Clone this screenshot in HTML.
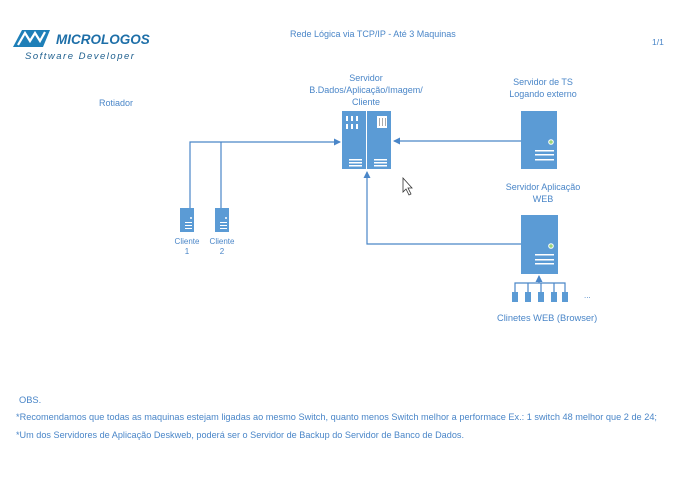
<!DOCTYPE html>
<html><head><meta charset="utf-8"><style>
html,body{margin:0;padding:0;background:#fff;}
svg{display:block}
text{font-family:"Liberation Sans",sans-serif;fill:#4a86c8;font-size:8.5px}
text.m{font-size:9px}
text.n{font-size:9.3px}
</style></head><body>
<svg width="699" height="492" viewBox="0 0 699 492" xmlns="http://www.w3.org/2000/svg">
<defs>
<marker id="ar" markerWidth="8" markerHeight="8" refX="6" refY="4" orient="auto" markerUnits="userSpaceOnUse">
<path d="M0,0.5 L7,4 L0,7.5 z" fill="#4a86c8"/></marker>
</defs>
<g>
<path d="M13,47 L22,30 L50,30 L43,47 Z" fill="#1e7fb8"/>
<path d="M18,45 L25,33 L30,41 L35,33 L40,41 L45,32" stroke="#fff" stroke-width="2.2" fill="none"/>
<text x="56" y="44" style="font-size:13.5px;font-weight:bold;font-style:italic;fill:#1e6fa8">MICROLOGOS</text>
<text x="25" y="59" style="font-size:9.5px;font-style:italic;fill:#1e5f8e;letter-spacing:1.5px">Software Developer</text>
</g>
<text x="290" y="37" class="m">Rede Lógica via TCP/IP - Até 3 Maquinas</text>
<text x="652" y="45">1/1</text>
<text x="99" y="106" class="m">Rotiador</text>
<text x="366" y="81" text-anchor="middle" class="m">Servidor</text>
<text x="366" y="93" text-anchor="middle" class="m">B.Dados/Aplicação/Imagem/</text>
<text x="366" y="105" text-anchor="middle" class="m">Cliente</text>
<text x="543" y="85" text-anchor="middle" class="m">Servidor de TS</text>
<text x="543" y="97" text-anchor="middle" class="m">Logando externo</text>
<text x="543" y="190" text-anchor="middle" class="m">Servidor Aplicação</text>
<text x="543" y="202" text-anchor="middle" class="m">WEB</text>
<g stroke="#4a86c8" stroke-width="1.2" fill="none">
<path d="M190,208 V142 H340" marker-end="url(#ar)"/>
<path d="M221,208 V142"/>
<path d="M521,141 H394" marker-end="url(#ar)"/>
<path d="M521,244 H367 V172" marker-end="url(#ar)"/>
<path d="M539,283 V276" marker-end="url(#ar)"/>
<path d="M515,292 V283 H565 V292 M528,283 V292 M541,283 V292 M554,283 V292"/>
</g>
<rect x="342" y="111" width="24" height="58" fill="#5b9bd5"/>
<rect x="367" y="111" width="24" height="58" fill="#5b9bd5"/>
<g fill="#fff">
<rect x="346" y="116" width="2" height="5"/><rect x="351" y="116" width="2" height="5"/><rect x="356" y="116" width="2" height="5"/>
<rect x="346" y="124" width="2" height="5"/><rect x="351" y="124" width="2" height="5"/><rect x="356" y="124" width="2" height="5"/>
<rect x="377" y="116" width="10" height="12"/>
<rect x="349" y="159" width="13" height="1.5"/><rect x="349" y="162" width="13" height="1.5"/><rect x="349" y="165" width="13" height="1.5"/>
<rect x="374" y="159" width="13" height="1.5"/><rect x="374" y="162" width="13" height="1.5"/><rect x="374" y="165" width="13" height="1.5"/>
</g>
<g fill="#aaa"><rect x="379" y="118" width="1" height="8"/><rect x="382" y="118" width="1" height="8"/><rect x="385" y="118" width="1" height="8"/></g>
<rect x="521" y="111" width="36" height="58" fill="#5b9bd5"/>
<circle cx="551" cy="142" r="2.3" fill="#9bd57a" stroke="#fff" stroke-width="1"/>
<g fill="#fff"><rect x="535" y="150" width="19" height="1.5"/><rect x="535" y="154" width="19" height="1.5"/><rect x="535" y="159" width="19" height="1.5"/></g>
<rect x="521" y="215" width="37" height="59" fill="#5b9bd5"/>
<circle cx="551" cy="246" r="2.3" fill="#9bd57a" stroke="#fff" stroke-width="1"/>
<g fill="#fff"><rect x="535" y="254" width="19" height="1.5"/><rect x="535" y="259" width="19" height="1.5"/><rect x="535" y="263" width="19" height="1.5"/></g>
<rect x="180" y="208" width="14" height="24" fill="#5b9bd5"/>
<rect x="215" y="208" width="14" height="24" fill="#5b9bd5"/>
<g fill="#fff"><circle cx="191" cy="218" r="1"/><rect x="185" y="222" width="7" height="1"/><rect x="185" y="225" width="7" height="1"/><rect x="185" y="228" width="7" height="1"/>
<circle cx="226" cy="218" r="1"/><rect x="220" y="222" width="7" height="1"/><rect x="220" y="225" width="7" height="1"/><rect x="220" y="228" width="7" height="1"/></g>
<text x="187" y="244" text-anchor="middle" style="font-size:8px">Cliente</text>
<text x="187" y="254" text-anchor="middle" style="font-size:8px">1</text>
<text x="222" y="244" text-anchor="middle" style="font-size:8px">Cliente</text>
<text x="222" y="254" text-anchor="middle" style="font-size:8px">2</text>
<g fill="#5b9bd5">
<rect x="512" y="292" width="6" height="10"/><rect x="525" y="292" width="6" height="10"/><rect x="538" y="292" width="6" height="10"/><rect x="551" y="292" width="6" height="10"/><rect x="562" y="292" width="6" height="10"/>
</g>
<text x="584" y="298" style="font-size:8px">...</text>
<text x="497" y="321" class="n">Clinetes WEB (Browser)</text>
<path d="M403,178 L403,192 L406,189 L409,195 L411,194 L408,188 L412,188 Z" fill="#fff" stroke="#333" stroke-width="0.8"/>
<text x="19" y="403" class="n">OBS.</text>
<text x="16" y="420" class="n" textLength="641" lengthAdjust="spacingAndGlyphs">*Recomendamos que todas as maquinas estejam ligadas ao mesmo Switch, quanto menos Switch melhor a performace Ex.: 1 switch 48 melhor que 2 de 24;</text>
<text x="16" y="438" class="n" textLength="448" lengthAdjust="spacingAndGlyphs">*Um  dos Servidores de Aplicação Deskweb, poderá ser o Servidor de Backup do Servidor de Banco de Dados.</text>
</svg>
</body></html>
